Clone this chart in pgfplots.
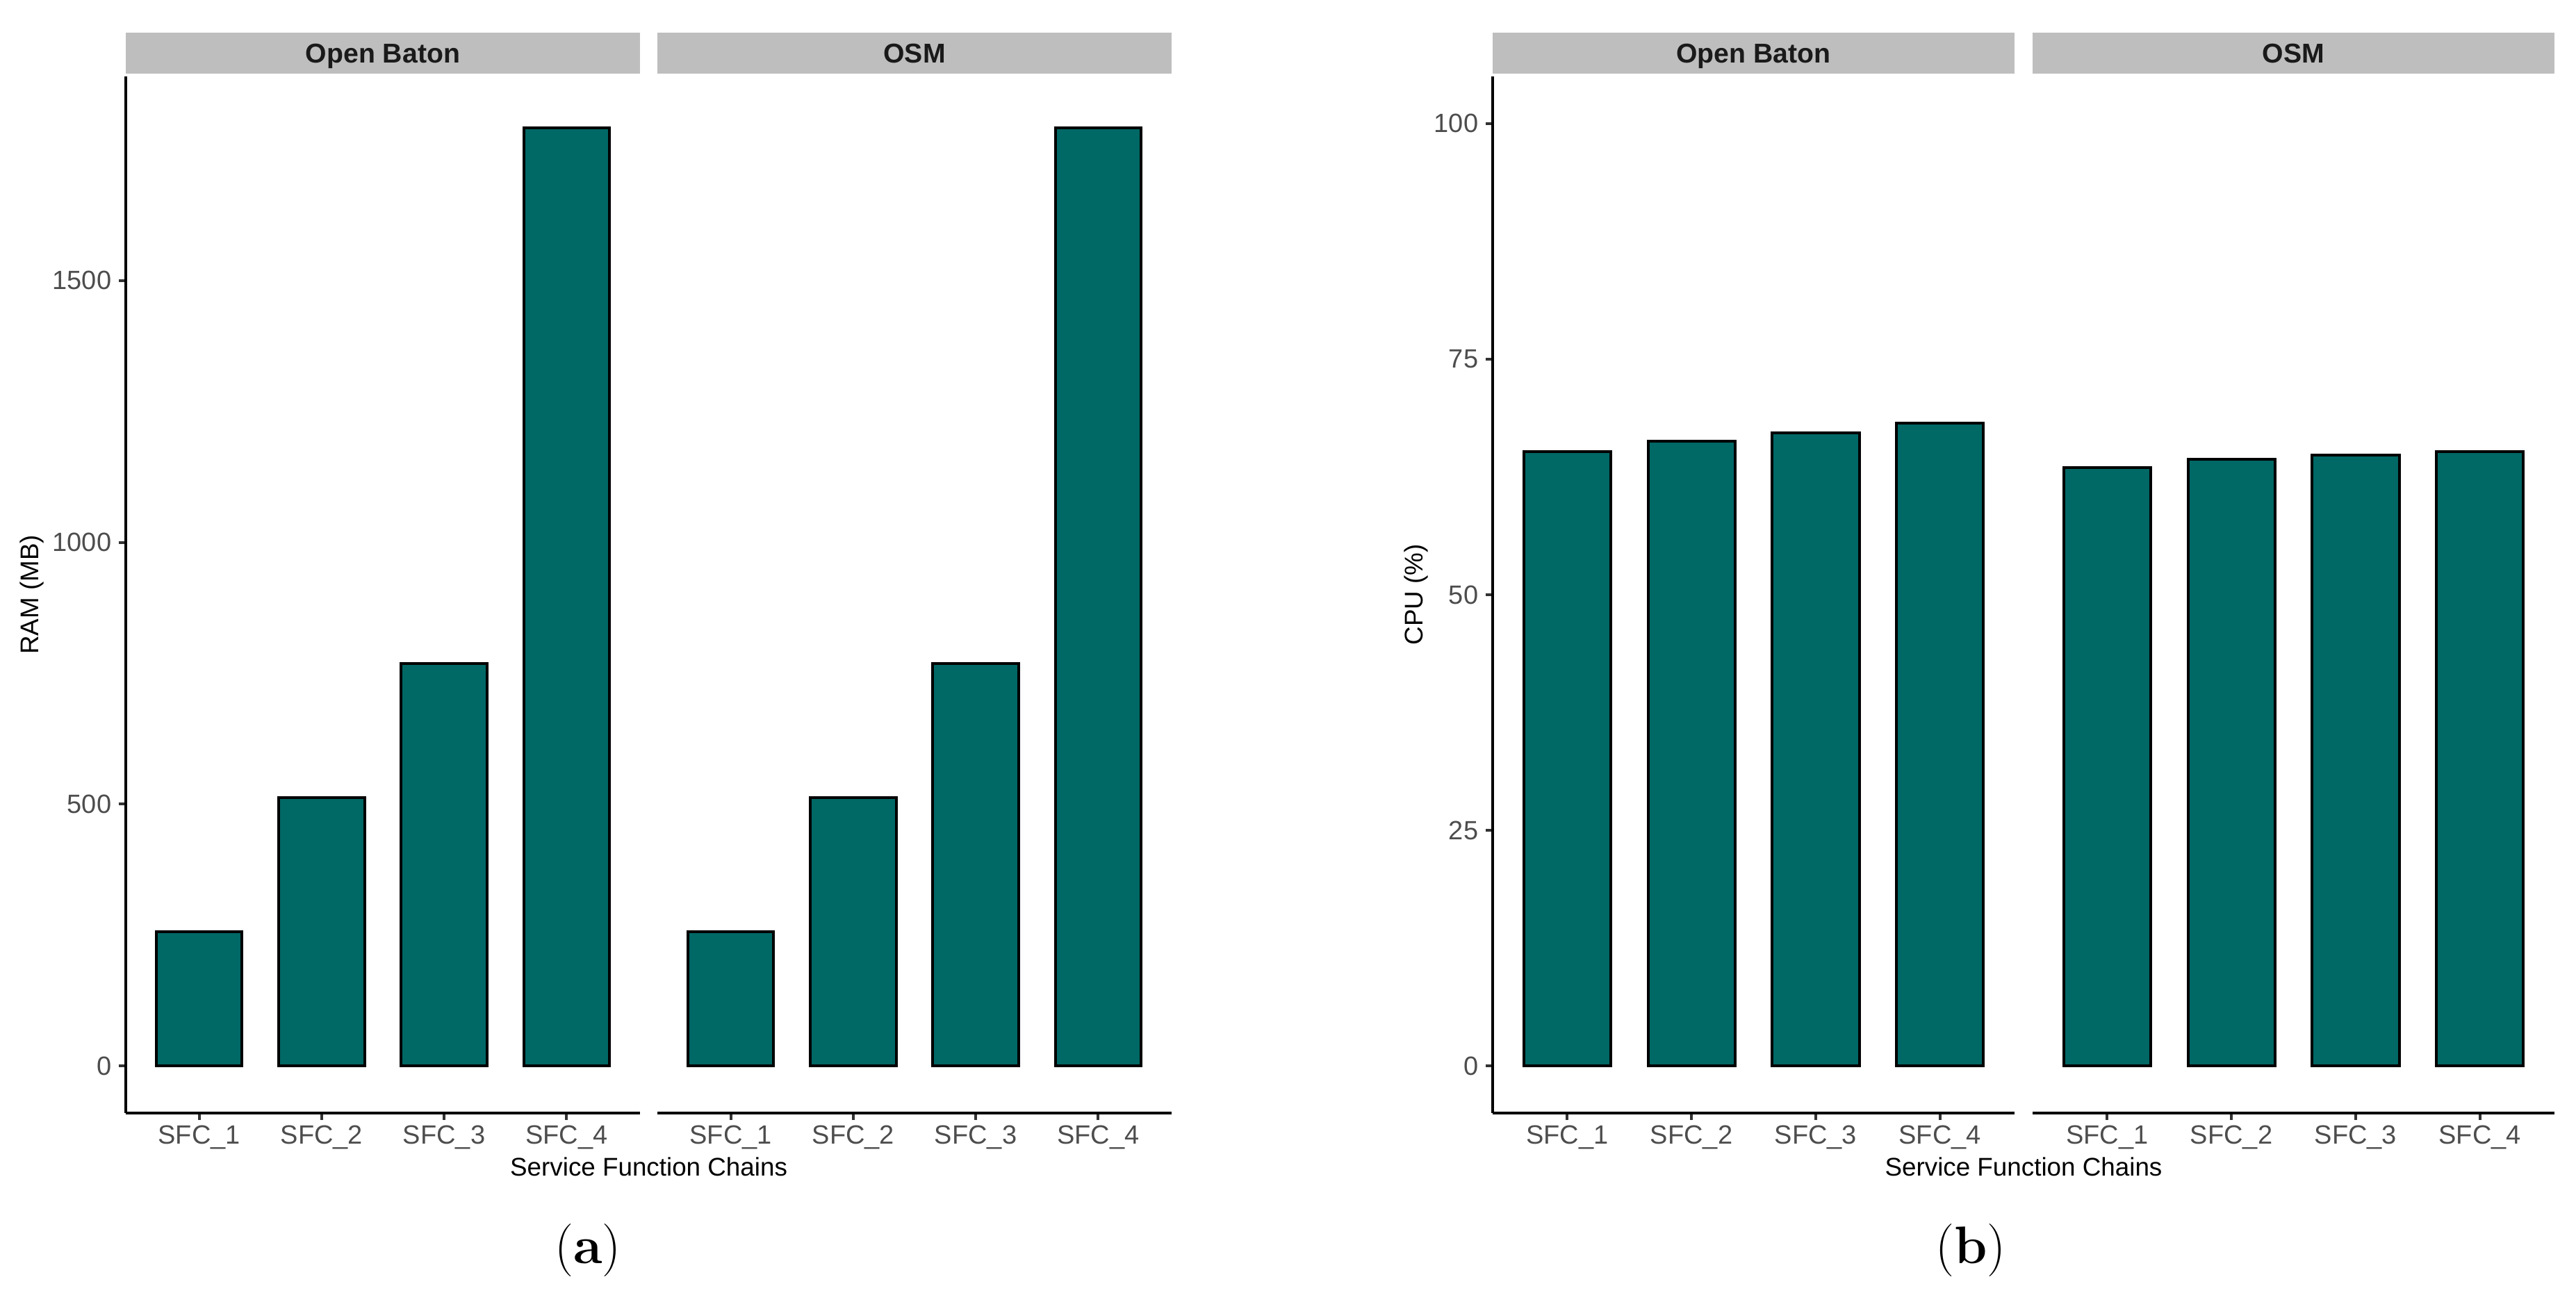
\documentclass[border=0pt]{standalone}
\usepackage{fontspec}
\usepackage{pgfplots}
\pgfplotsset{compat=1.18}
\newfontfamily\arial{Liberation Sans}
\definecolor{barfill}{RGB}{0,104,101}
\definecolor{stripgrey}{RGB}{190,190,190}
\definecolor{tickgrey}{RGB}{77,77,77}
\definecolor{tickdark}{RGB}{51,51,51}
\definecolor{striptext}{RGB}{26,26,26}

\pgfplotsset{
  facet/.style={
    scale only axis, width=#1, height=373pt, anchor=south west,
    xmin=0.4, xmax=4.6, xtick={1,2,3,4},
    xticklabels={SFC\_1,SFC\_2,SFC\_3,SFC\_4},
    axis x line*=bottom,
    axis line style={line width=1.1pt, black, -},
    x axis line style={-}, y axis line style={-},
    tick align=outside, major tick length=2.5pt,
    major tick style={line width=1pt, tickdark},
    ticklabel style={font=\arial\fontsize{9.5}{11}\selectfont, text=tickgrey},
    xticklabel style={anchor=north, inner sep=0pt, yshift=-1.75pt},
    yticklabel style={anchor=east, inner sep=0pt, xshift=-2.5pt},
    /pgf/number format/assume math mode=true,
    /pgf/number format/1000 sep={},
    ybar, bar width=0.7,
  },
  barstyle/.style={fill=barfill, draw=black, line width=1pt},
}

\newcommand{\strip}[2]{%
  \fill[stripgrey] ([yshift=1pt]#1.north west) rectangle ([yshift=15.75pt]#1.north east);
  \node[font=\arial\bfseries\fontsize{9.8}{11}\selectfont, text=striptext, anchor=base, inner sep=0pt]
    at ([yshift=4.75pt]#1.north) {#2};
}

\begin{document}
\begin{tikzpicture}
\useasboundingbox (0,0) rectangle (926.75pt,465.25pt);

% ---------- Panel (a): RAM ----------
\begin{axis}[facet=185pt, name=a1, at={(45.25pt,64.75pt)},
  ymin=-90, ymax=1890, ytick={0,500,1000,1500},
  axis y line*=left]
\addplot[barstyle] coordinates {(1,256) (2,512) (3,768) (4,1792)};
\end{axis}
\strip{a1}{Open Baton}

\begin{axis}[facet=185pt, name=a2, at={(236.5pt,64.75pt)},
  ymin=-90, ymax=1890, axis y line=none]
\addplot[barstyle] coordinates {(1,256) (2,512) (3,768) (4,1792)};
\end{axis}
\strip{a2}{OSM}

% ---------- Panel (b): CPU ----------
\begin{axis}[facet=187.75pt, name=b1, at={(537pt,64.75pt)},
  ymin=-5, ymax=105, ytick={0,25,50,75,100},
  axis y line*=left]
\addplot[barstyle] coordinates {(1,65.2) (2,66.3) (3,67.2) (4,68.2)};
\end{axis}
\strip{b1}{Open Baton}

\begin{axis}[facet=187.75pt, name=b2, at={(731.25pt,64.75pt)},
  ymin=-5, ymax=105, axis y line=none]
\addplot[barstyle] coordinates {(1,63.5) (2,64.4) (3,64.8) (4,65.2)};
\end{axis}
\strip{b2}{OSM}

% axis titles
\node[font=\arial\fontsize{9.2}{11}\selectfont, rotate=90, anchor=base, inner sep=0pt]
  at (13.75pt,251.25pt) {RAM (MB)};
\node[font=\arial\fontsize{9.2}{11}\selectfont, rotate=90, anchor=base, inner sep=0pt]
  at (511.75pt,251.25pt) {CPU (\%)};
\node[font=\arial\fontsize{9.2}{11}\selectfont, anchor=base, inner sep=0pt]
  at (233.4pt,42pt) {Service Function Chains};
\node[font=\arial\fontsize{9.2}{11}\selectfont, anchor=base, inner sep=0pt]
  at (728pt,42pt) {Service Function Chains};

% sub-captions
\node[font=\fontsize{19}{22}\selectfont, inner sep=0pt] at (211.5pt,15.25pt) {(\textbf{a})};
\node[font=\fontsize{19}{22}\selectfont, inner sep=0pt] at (709pt,15.25pt) {(\textbf{b})};
\end{tikzpicture}
\end{document}
